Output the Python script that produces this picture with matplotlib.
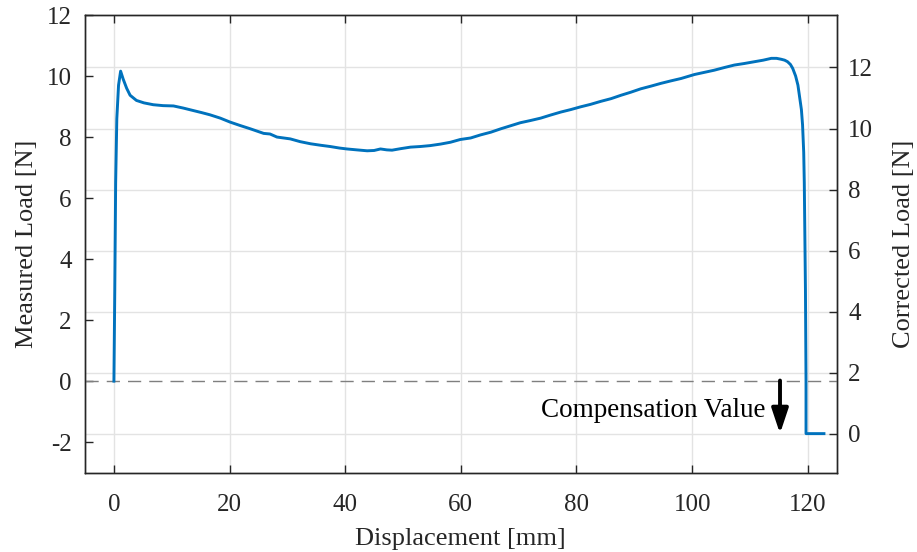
import numpy as np
import matplotlib.pyplot as plt

# displacement [mm] and measured load [N]
disp = [0, 0.15, 0.3, 0.5, 0.8, 1.16, 1.6, 2.2, 2.8, 3.9, 5.2, 6.8, 8.5, 10.3, 12.0,
        13.7, 15.2, 16.6, 18.4, 20.1, 21.8, 23.6, 25.9, 27.0, 28.2, 30.5, 32.2, 34.0,
        35.8, 37.4, 39.0, 40.3, 42.0, 43.8, 45.0, 46.1, 47.2, 48.1, 49.6, 51.3, 53.0,
        54.7, 56.5, 58.2, 59.9, 61.7, 63.4, 65.2, 66.9, 68.6, 70.3, 72.0, 73.8, 75.5,
        77.3, 79.0, 80.7, 82.4, 84.2, 86.0, 87.7, 89.4, 91.1, 92.9, 94.6, 96.3, 98.1,
        100.4, 102.1, 103.8, 105.6, 107.3, 109.0, 110.8, 112.3, 113.7, 114.6, 115.4,
        116.0, 116.5, 117.0, 117.4, 117.9, 118.3, 118.6, 118.9, 119.1, 119.3, 119.4,
        119.6, 119.7, 119.7, 120.5, 121.5, 122.8]
load = [0, 3.0, 6.5, 8.6, 9.7, 10.16, 9.9, 9.6, 9.37, 9.2, 9.12, 9.06, 9.03, 9.02, 8.95,
        8.87, 8.80, 8.73, 8.62, 8.49, 8.38, 8.27, 8.12, 8.10, 8.0, 7.94, 7.85, 7.78,
        7.73, 7.69, 7.64, 7.61, 7.58, 7.55, 7.56, 7.61, 7.58, 7.57, 7.62, 7.67, 7.69,
        7.72, 7.77, 7.83, 7.92, 7.97, 8.07, 8.16, 8.27, 8.37, 8.47, 8.54, 8.62, 8.72,
        8.82, 8.90, 8.99, 9.07, 9.17, 9.26, 9.37, 9.47, 9.58, 9.67, 9.76, 9.84, 9.92,
        10.05, 10.12, 10.19, 10.28, 10.36, 10.41, 10.47, 10.52, 10.58, 10.58, 10.55,
        10.52, 10.47, 10.38, 10.25, 10.0, 9.70, 9.30, 8.9, 8.4, 7.5, 6.5, 3.0, 0.0,
        -1.72, -1.72, -1.72, -1.72]
comp = -1.72  # compensation value [N]

xticks = [0, 20, 40, 60, 80, 100, 120]
left_ticks = [-2, 0, 2, 4, 6, 8, 10, 12]
right_ticks = [0, 2, 4, 6, 8, 10, 12]

plt.rcParams['font.family'] = ['Liberation Serif', 'DejaVu Serif']
plt.rcParams['axes.unicode_minus'] = False
tc = '#262626'
gc = '#e3e3e3'

fig = plt.figure(figsize=(9.17, 5.52), dpi=100)
ax1 = fig.add_axes([0.0927, 0.1437, 0.8197, 0.8291])
ax2 = ax1.twinx()
ax1.set_zorder(ax2.get_zorder() + 1)
ax1.patch.set_visible(False)

ax1.set_xlim(-5, 125)
ax1.set_ylim(-3, 12)
ax2.set_ylim(-3 - comp, 12 - comp)

ax1.set_xticks(xticks)
ax1.set_yticks(left_ticks)
ax2.set_yticks(right_ticks)

ax1.grid(True, axis='x', color=gc, lw=1)
ax1.grid(False, axis='y')
ax2.grid(True, axis='y', color=gc, lw=1)

ax1.axhline(0, color='#7f7f7f', lw=1, dashes=(9.5, 5.8))
ax1.plot(disp, load, color='#0072BD', lw=2.1)

ax1.annotate('', xy=(115.2, comp), xytext=(115.2, 0.02),
             arrowprops=dict(arrowstyle='-|>,head_length=1.5,head_width=0.5',
                             color='k', lw=2.8, shrinkA=0, shrinkB=0))
ax1.text(112.7, -0.96, 'Compensation Value', ha='right', va='center',
         fontsize=19.5, color='k')

for ax in (ax1, ax2):
    for s in ax.spines.values():
        s.set_color(tc)
        s.set_linewidth(1)
ax1.tick_params(axis='x', direction='in', top=True, length=6, width=1,
                colors=tc, labelsize=18, pad=15)
ax1.tick_params(axis='y', direction='in', length=6, width=1,
                colors=tc, labelsize=18, pad=9.5)
ax2.tick_params(axis='y', direction='in', length=6, width=1,
                colors=tc, labelsize=18, pad=8.3)

ax1.set_xlabel('Displacement [mm]', fontsize=19, color=tc, labelpad=9)
ax1.set_ylabel('Measured Load [N]', fontsize=19, color=tc, labelpad=6)
ax2.set_ylabel('Corrected Load [N]', fontsize=19, color=tc, labelpad=14)

fig.savefig('out.png', dpi=100)
